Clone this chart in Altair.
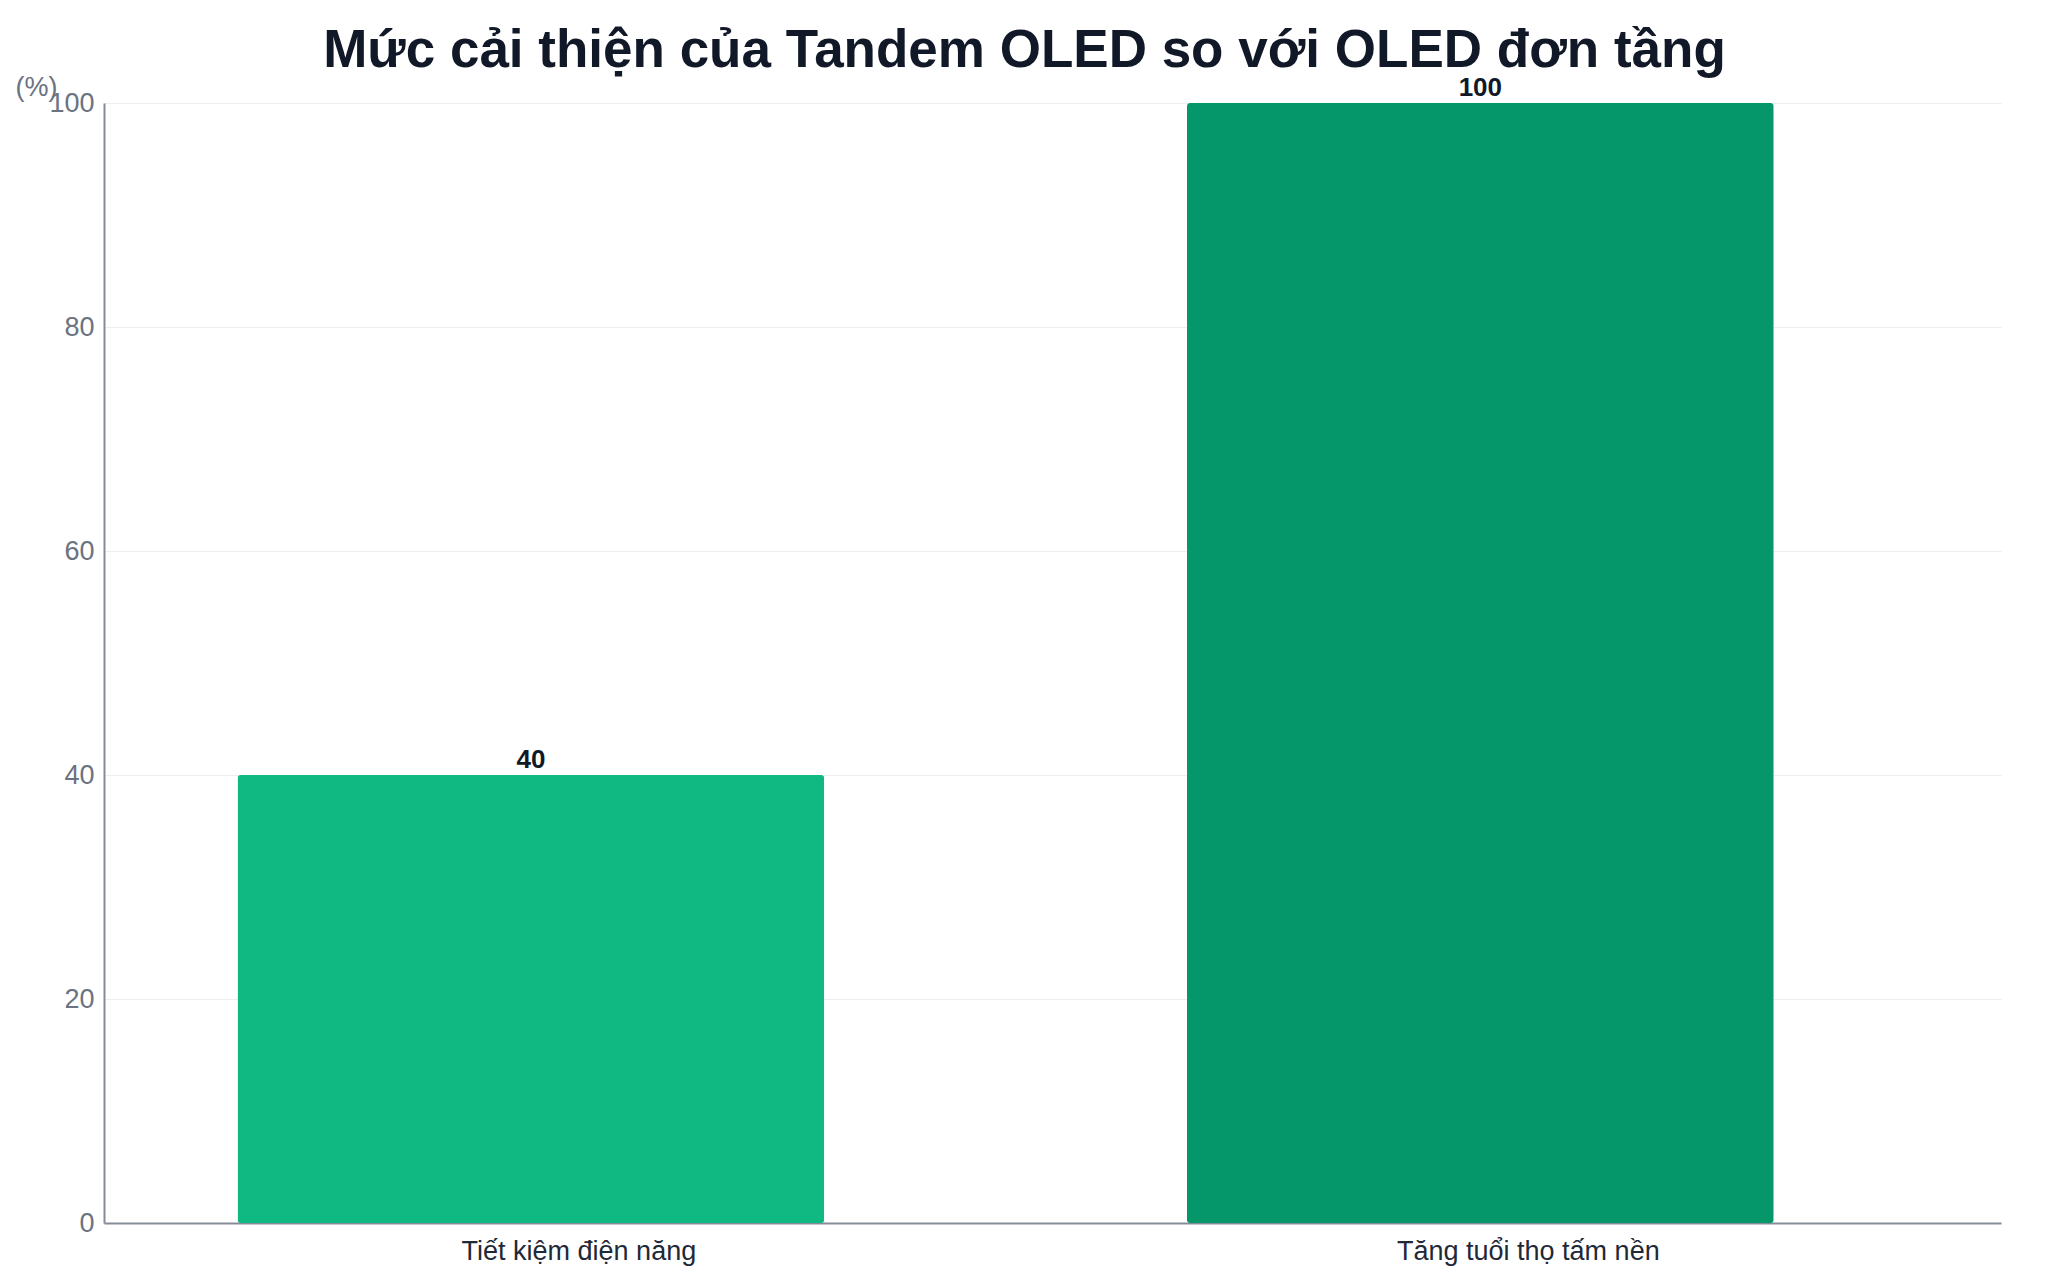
import altair as alt
import pandas as pd

# Data
categories = ["Tiết kiệm điện năng", "Tăng tuổi thọ tấm nền"]
improvement_pct = [40, 100]
bar_colors = ["#10b981", "#059669"]
y_ticks = [0, 20, 40, 60, 80, 100]

TITLE = "Mức cải thiện của Tandem OLED so với OLED đơn tầng"
FONT = "Liberation Sans"

df = pd.DataFrame({"category": categories, "value": improvement_pct})

base = alt.Chart(df).encode(
    x=alt.X(
        "category:N",
        sort=categories,
        title=None,
        scale=alt.Scale(paddingInner=0.382, paddingOuter=0.19, align=0.37),
        axis=alt.Axis(
            labelAngle=0,
            labelFontSize=27,
            labelColor="#1f2937",
            labelFont=FONT,
            labelPadding=15,
            labelOffset=48,
            labelLimit=0,
            ticks=False,
            domainColor="#858c97",
            domainWidth=2,
            grid=False,
        ),
    ),
    y=alt.Y(
        "value:Q",
        scale=alt.Scale(domain=[0, 100], nice=False),
        title="(%)",
        axis=alt.Axis(
            values=y_ticks,
            labelFontSize=27,
            labelColor="#6b7280",
            labelFont=FONT,
            labelPadding=10,
            ticks=False,
            domainColor="#858c97",
            domainWidth=2,
            gridColor="#eceef1",
            gridWidth=1,
            titleAngle=0,
            titleX=-68,
            titleY=-16,
            titleAlign="center",
            titleBaseline="middle",
            titleFontSize=27,
            titleFontWeight="normal",
            titleColor="#6b7280",
            titleFont=FONT,
        ),
    ),
)

bars = base.mark_bar(cornerRadius=3).encode(
    color=alt.Color(
        "category:N",
        scale=alt.Scale(domain=categories, range=bar_colors),
        legend=None,
    )
)

labels = base.mark_text(
    baseline="alphabetic",
    dy=-7,
    fontSize=26,
    fontWeight="bold",
    font=FONT,
    color="#111827",
).encode(text=alt.Text("value:Q"))

chart = (
    (bars + labels)
    .properties(
        width=1897,
        height=1120,
        padding={"left": 7, "top": 17, "right": 20, "bottom": 10},
        background="white",
        title=alt.TitleParams(
            TITLE,
            fontSize=53,
            font=FONT,
            fontWeight="bold",
            color="#111827",
            anchor="middle",
            dx=-28,
            offset=-5,
        ),
    )
    .configure_view(stroke=None)
)

chart.save("out.html", embed_options={"renderer": "svg", "actions": False})
